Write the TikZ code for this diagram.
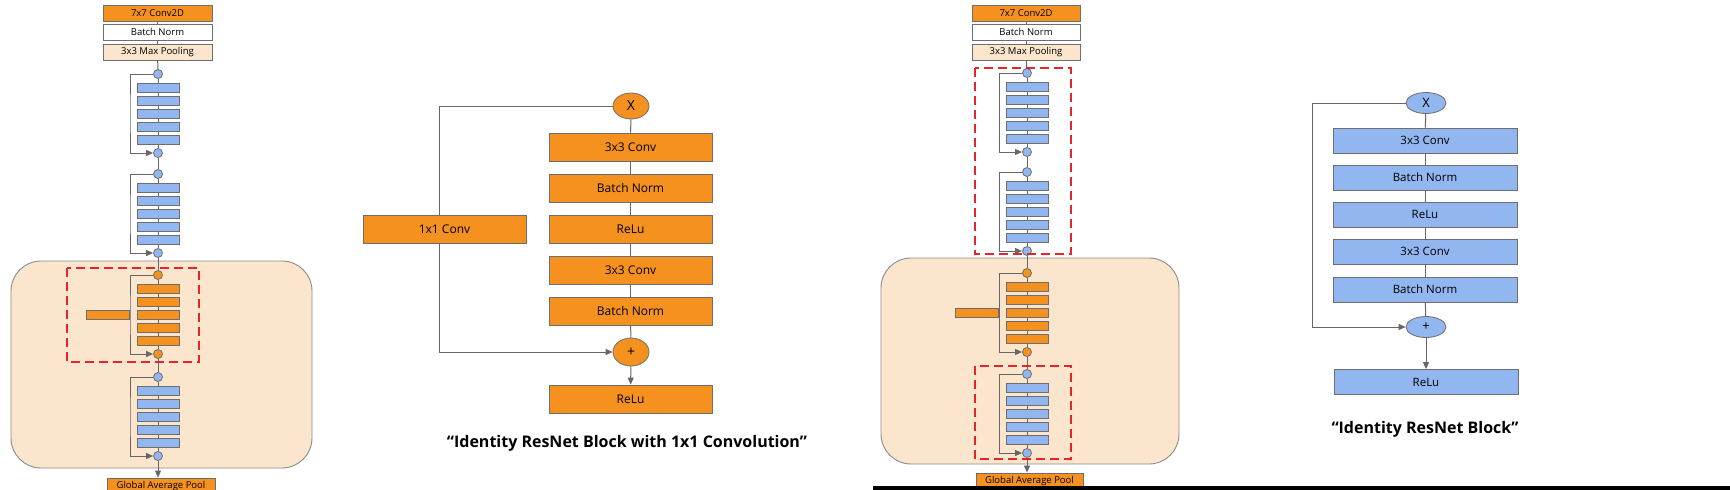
\documentclass[tikz,border=0pt]{standalone}
\usepackage{fontspec}
\setmainfont{Open Sans}
\usetikzlibrary{arrows.meta,shapes.geometric,calc}
\definecolor{org}{HTML}{F5911E}
\definecolor{blu}{HTML}{92B6EF}
\definecolor{pch}{HTML}{FCE5CD}
\definecolor{bdr}{HTML}{6E6E6E}
\definecolor{lnc}{HTML}{666666}
\definecolor{rdd}{HTML}{E3262B}
\pgfdeclarelayer{bg}
\pgfdeclarelayer{lines}
\pgfsetlayers{bg,lines,main}
\newcommand\resblock[5]{%
  \node[dot,fill=#5] (#1t) at (#2,#4) {};
  \foreach \k in {1,...,5} \node[bar,fill=#5] (#1\k) at (#2,{#4+13.5+13*(\k-1)}) {};
  \node[dot,fill=#5] (#1b) at (#2,#4+79) {};
  \begin{pgfonlayer}{lines}
    \draw[conn] (#1t) -- (#1b);
    \draw[arr] (#1t.west) -| (#3,#4+40) |- (#1b.west);
  \end{pgfonlayer}
}
\begin{document}
\begin{tikzpicture}[x=1pt,y=-1pt,
  topbox/.style={draw=bdr, line width=0.8pt, minimum width=109pt, minimum height=16pt, inner sep=0pt, font=\fontsize{9.5}{11}\selectfont},
  bar/.style={draw=bdr, line width=0.8pt, minimum width=42pt, minimum height=9pt, inner sep=0pt},
  dot/.style={circle, draw=bdr, line width=0.8pt, minimum size=9pt, inner sep=0pt},
  mbox/.style={draw=bdr, line width=0.8pt, minimum width=163pt, minimum height=28pt, inner sep=0pt, fill=org, font=\fontsize{12}{14}\selectfont},
  rbox/.style={draw=bdr, line width=0.8pt, minimum width=184pt, minimum height=25pt, inner sep=0pt, fill=blu, font=\fontsize{11.5}{13}\selectfont},
  oval/.style={ellipse, draw=bdr, line width=0.8pt, inner sep=0pt},
  conn/.style={draw=lnc, line width=1pt},
  arr/.style={conn, -{Triangle[length=7pt,width=6pt]}},
  reddash/.style={draw=rdd, line width=1.8pt, dash pattern=on 9pt off 5pt},
  panel/.style={fill=pch, draw=bdr!80, line width=0.9pt, rounded corners=30pt},
  captext/.style={font=\bfseries\fontsize{16}{20}\selectfont}
]
\useasboundingbox (0,0) rectangle (1730,490);
\clip (0,0) rectangle (1730,490);
\begin{pgfonlayer}{bg}
  \fill[white] (0,0) rectangle (1730,490);
\end{pgfonlayer}

% ---------- left column ----------
\begin{pgfonlayer}{bg}
  \draw[panel] (11,261) rectangle (312,468);
\end{pgfonlayer}
\node[topbox,fill=org] (Lconv) at (157.5,13) {7x7 Conv2D};
\node[topbox,fill=white] (Lbn) at (157.5,32) {Batch Norm};
\node[topbox,fill=pch] (Lpool) at (157.5,52) {3x3 Max Pooling};
\resblock{La}{158}{130}{74}{blu}
\resblock{Lb}{158}{130}{174}{blu}
\resblock{Lc}{158}{130}{275}{org}
\resblock{Ld}{158}{130}{377}{blu}
\node[bar,fill=org,minimum width=43pt] (Lside) at (107.5,314.5) {};
\node[topbox,fill=org,minimum width=108pt] (Lgap) at (161,486) {Global Average Pool};
\begin{pgfonlayer}{lines}
  \draw[conn] (Lconv) -- (Lbn);
  \draw[conn] (Lbn) -- (Lpool);
  \draw[conn] (Lpool) -- (Lat);
  \draw[conn] (Lab) -- (Lbt);
  \draw[conn] (Lbb) -- (Lct);
  \draw[conn] (Lcb) -- (Ldt);
  \draw[arr] (Ldb) -- (Ldb |- Lgap.north);
\end{pgfonlayer}
\draw[reddash] (67,268) rectangle (199,362);

% ---------- middle block ----------
\node[oval,fill=org,minimum width=36pt,minimum height=26pt,font=\fontsize{14}{16}\selectfont] (mX) at (631,106) {X};
\node[mbox] (m1) at (630.5,147) {3x3 Conv};
\node[mbox] (m2) at (630.5,188) {Batch Norm};
\node[mbox] (m3) at (630.5,229) {ReLu};
\node[mbox] (m4) at (630.5,270) {3x3 Conv};
\node[mbox] (m5) at (630.5,311) {Batch Norm};
\node[oval,fill=org,minimum width=36pt,minimum height=28pt,font=\fontsize{14}{16}\selectfont] (mplus) at (631,352) {+};
\node[mbox] (mrelu) at (630.5,399) {ReLu};
\node[mbox] (m11) at (444.5,229) {1x1 Conv};
\coordinate (msk) at (439,229);
\begin{pgfonlayer}{lines}
  \draw[conn] (mX) -- (m1);
  \draw[conn] (m1) -- (m2);
  \draw[conn] (m2) -- (m3);
  \draw[conn] (m3) -- (m4);
  \draw[conn] (m4) -- (m5);
  \draw[conn] (m5) -- (mplus);
  \draw[arr] (mplus) -- (mrelu);
  \draw[conn] (mX.west) -| (m11.north -| msk);
  \draw[arr] (m11.south -| msk) |- (mplus.west);
\end{pgfonlayer}
\node[captext] (cap1) at (627,443) {“Identity ResNet Block with 1x1 Convolution”};

% ---------- right column ----------
\begin{pgfonlayer}{bg}
  \draw[panel] (881,258) rectangle (1179,464);
\end{pgfonlayer}
\node[topbox,fill=org,minimum width=108pt] (Rconv) at (1026,13) {7x7 Conv2D};
\node[topbox,fill=white,minimum width=108pt] (Rbn) at (1026,32) {Batch Norm};
\node[topbox,fill=pch,minimum width=108pt] (Rpool) at (1026,52) {3x3 Max Pooling};
\resblock{Ra}{1027}{999}{73}{blu}
\resblock{Rb}{1027}{999}{172}{blu}
\resblock{Rc}{1027}{999}{273}{org}
\resblock{Rd}{1027}{999}{374}{blu}
\node[bar,fill=org,minimum width=43pt] (Rside) at (976.5,312.5) {};
\node[topbox,fill=org,minimum width=107pt] (Rgap) at (1029.5,481) {Global Average Pool};
\begin{pgfonlayer}{lines}
  \draw[conn] (Rconv) -- (Rbn);
  \draw[conn] (Rbn) -- (Rpool);
  \draw[conn] (Rpool) -- (Rat);
  \draw[conn] (Rab) -- (Rbt);
  \draw[conn] (Rbb) -- (Rct);
  \draw[conn] (Rcb) -- (Rdt);
  \draw[arr] (Rdb) -- (Rdb |- Rgap.north);
\end{pgfonlayer}
\draw[reddash] (975,68) rectangle (1071,254);
\draw[reddash] (975,366) rectangle (1071,459);

% ---------- right block ----------
\node[oval,fill=blu,minimum width=40pt,minimum height=21pt,font=\fontsize{13}{15}\selectfont] (rX) at (1426,103) {X};
\node[rbox] (r1) at (1425,140.5) {3x3 Conv};
\node[rbox] (r2) at (1425,177.5) {Batch Norm};
\node[rbox] (r3) at (1425,214.5) {ReLu};
\node[rbox] (r4) at (1425,251.5) {3x3 Conv};
\node[rbox] (r5) at (1425,289.5) {Batch Norm};
\node[oval,fill=blu,minimum width=40pt,minimum height=21pt,font=\fontsize{13}{15}\selectfont] (rplus) at (1426,327) {+};
\node[rbox] (rrelu) at (1426,382) {ReLu};
\begin{pgfonlayer}{lines}
  \draw[conn] (rX) -- (r1);
  \draw[conn] (r1) -- (r2);
  \draw[conn] (r2) -- (r3);
  \draw[conn] (r3) -- (r4);
  \draw[conn] (r4) -- (r5);
  \draw[conn] (r5) -- (rplus);
  \draw[arr] (rplus) -- (rrelu);
  \draw[arr] (rX.west) -| (1312,215) |- (rplus.west);
\end{pgfonlayer}
\node[captext] (cap2) at (1425,429) {“Identity ResNet Block”};

\fill[black] (873,486) rectangle (1730,490);
\end{tikzpicture}
\end{document}
